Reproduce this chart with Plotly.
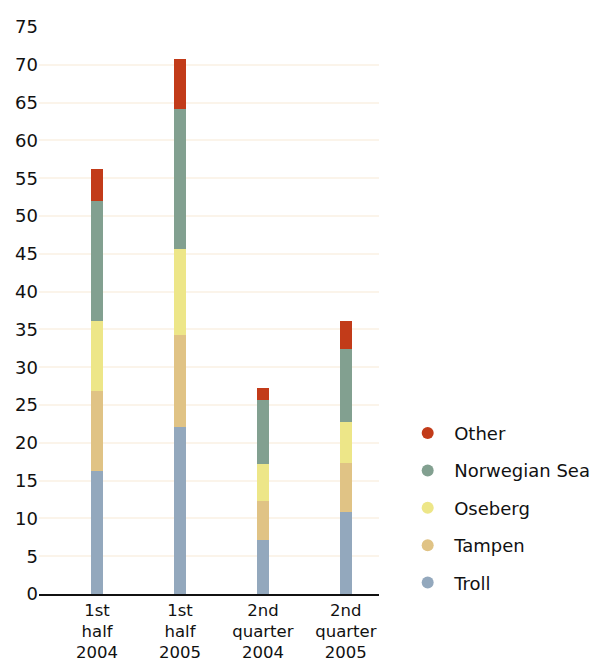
import plotly.graph_objects as go

# Production by field area (stacked per period)
periods = ["1st<br>half<br>2004", "1st<br>half<br>2005", "2nd<br>quarter<br>2004", "2nd<br>quarter<br>2005"]

troll = [16.3, 22.1, 7.1, 10.9]
tampen = [10.5, 12.2, 5.25, 6.4]
oseberg = [9.25, 11.3, 4.8, 5.5]
norwegian_sea = [15.9, 18.5, 8.55, 9.65]
other = [4.3, 6.7, 1.6, 3.7]

series = [
    ("Troll", troll, "#93a8bd"),
    ("Tampen", tampen, "#e0c385"),
    ("Oseberg", oseberg, "#ede688"),
    ("Norwegian Sea", norwegian_sea, "#82a090"),
    ("Other", other, "#c23b19"),
]

x_idx = list(range(len(periods)))

fig = go.Figure()
for name, vals, color in series:
    fig.add_trace(go.Bar(
        x=x_idx, y=vals, name=name, marker=dict(color=color, line=dict(width=0)),
        width=0.145, showlegend=False,
    ))
# Circle markers for the legend entries, top entry first
for name, vals, color in reversed(series):
    fig.add_trace(go.Scatter(
        x=[None], y=[None], mode="markers", name=name, legendgroup=name,
        marker=dict(color=color, size=12, symbol="circle"),
    ))

fig.update_layout(
    barmode="stack",
    width=597, height=662,
    margin=dict(l=39, r=218, t=27, b=68, autoexpand=False),
    paper_bgcolor="white", plot_bgcolor="white",
    font=dict(family="DejaVu Sans, Verdana, sans-serif", size=18, color="#111"),
    legend=dict(
        traceorder="grouped", tracegroupgap=11, itemwidth=43,
        xref="container", x=0.672, xanchor="left",
        y=0.152, yanchor="middle",
        font=dict(size=18),
    ),
    xaxis=dict(
        tickmode="array", tickvals=x_idx, ticktext=periods,
        range=[-0.7, 3.4], showgrid=False, showline=True, linecolor="#111",
        linewidth=1.5, ticks="", zeroline=False, automargin=False,
        tickfont=dict(size=16.5),
    ),
    yaxis=dict(
        range=[0, 75], dtick=5, showgrid=True, gridcolor="#fbf4ea",
        gridwidth=1.5, zeroline=False, showline=False, ticks="", automargin=False,
    ),
)

fig.write_html("out.html")
